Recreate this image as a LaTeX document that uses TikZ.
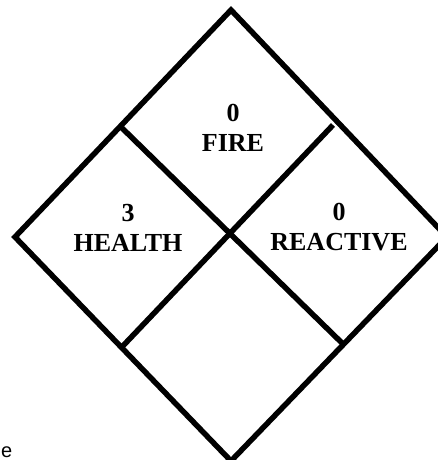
\documentclass[tikz,border=0pt]{standalone}
\usepackage{fontspec}
\setmainfont{Liberation Serif}
\newfontfamily\sansfont{Liberation Sans}
\usepackage{tikz}
\usetikzlibrary{positioning}

\begin{document}
\begin{tikzpicture}[x=1pt, y=-1pt,
    rating/.style={align=center, font=\fontsize{26}{30}\selectfont\bfseries},
    edge/.style={line width=5.5pt}]
    \useasboundingbox (0,0) rectangle (438,460);

    % Outer diamond
    \coordinate (top) at (231,10);
    \coordinate (right) at (447,237);
    \coordinate (bottom) at (231,461);
    \coordinate (left) at (15,237);
    \draw[edge] (top) -- (right) -- (bottom) -- (left) -- cycle;

    % Inner dividers
    \coordinate (ul) at (122,128);
    \coordinate (lr) at (343,344);
    \coordinate (ll) at (120,349);
    \coordinate (ur) at (333,125);
    \draw[edge] (ul) -- (lr);
    \draw[edge] (ll) -- (ur);

    % Ratings
    \node[rating] (fire) at (233,128) {0\\FIRE};
    \node[rating] (health) at (128,228) {3\\HEALTH};
    \node[rating] (reactive) at (339,227) {0\\REACTIVE};

    % Stray letter
    \node[font=\sansfont\fontsize{20}{24}\selectfont, anchor=base west, inner sep=0pt] (stray) at (1,457) {e};
\end{tikzpicture}
\end{document}
